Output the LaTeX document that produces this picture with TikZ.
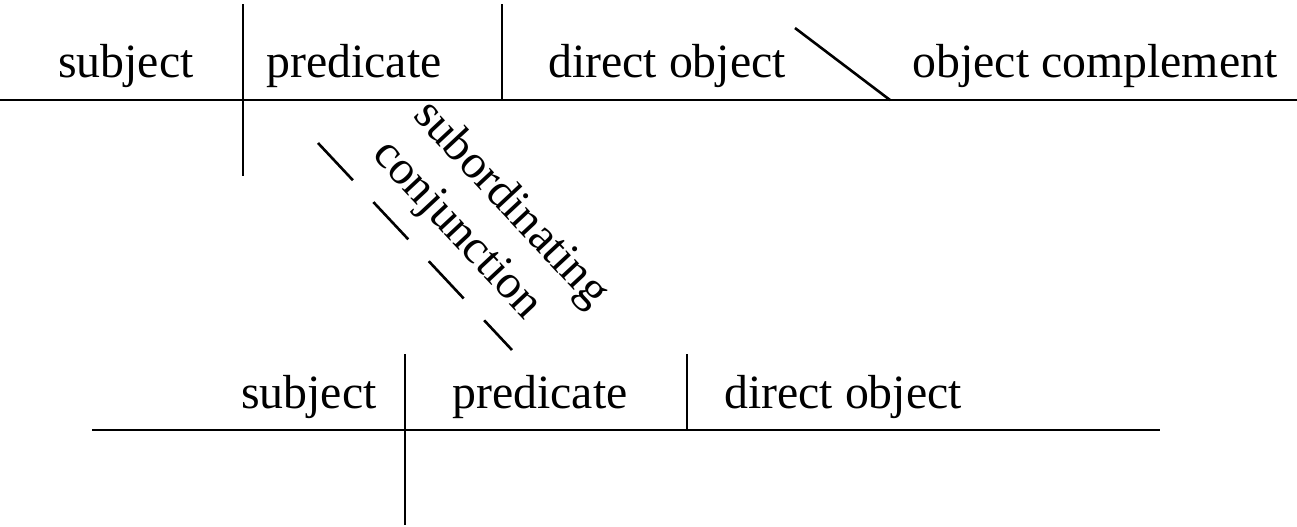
\documentclass[tikz,border=0pt]{standalone}
\usepackage{fontspec}
\setmainfont{Liberation Serif}
\begin{document}
\begin{tikzpicture}[x=0.5pt,y=-0.5pt,line width=1.3pt,
  lbl/.style={font=\fontsize{23.9}{28}\selectfont,inner sep=0pt,anchor=base},
  rot/.style={font=\fontsize{23.9}{28}\selectfont,inner sep=0pt,anchor=center,rotate=-47},
  dashline/.style={dash pattern=on 25.5pt off 15pt}]
\useasboundingbox (0,0) rectangle (1297,526);
% top clause
\coordinate (tL) at (0,100);
\coordinate (tR) at (1297,100);
\coordinate (v1t) at (243,4);
\coordinate (v1b) at (243,176);
\coordinate (v2t) at (502,4);
\coordinate (v2b) at (502,100);
\coordinate (s1) at (795,28);
\coordinate (s2) at (890,100);
\draw (tL) -- (tR);
\draw (v1t) -- (v1b);
\draw (v2t) -- (v2b);
\draw (s1) -- (s2);
\node[lbl] (subj1) at (126,77) {subject};
\node[lbl] (pred1) at (354,77) {predicate};
\node[lbl] (dobj1) at (667,77) {direct object};
\node[lbl] (ocomp) at (1095,77) {object complement};
% subordinate connector
\coordinate (d1) at (318,143);
\coordinate (d2) at (512,350);
\draw[dashline] (d1) -- (d2);
\node[rot] (sub) at (510,205) {subordinating};
\node[rot] (conj) at (456,231) {conjunction};
% lower clause
\coordinate (bL) at (92,430);
\coordinate (bR) at (1160,430);
\coordinate (w1t) at (405,354);
\coordinate (w1b) at (405,525);
\coordinate (w2t) at (687,354);
\coordinate (w2b) at (687,430);
\draw (bL) -- (bR);
\draw (w1t) -- (w1b);
\draw (w2t) -- (w2b);
\node[lbl] (subj2) at (309,408) {subject};
\node[lbl] (pred2) at (540,408) {predicate};
\node[lbl] (dobj2) at (843,408) {direct object};
\end{tikzpicture}
\end{document}
